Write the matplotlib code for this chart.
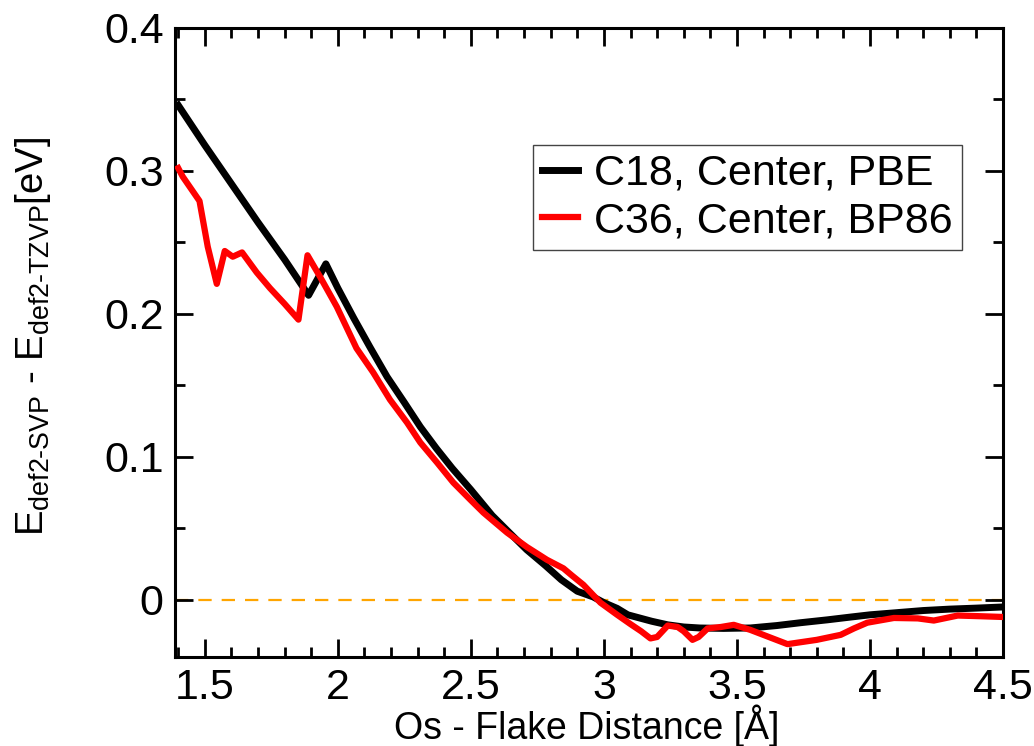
import numpy as np
import matplotlib.pyplot as plt
from matplotlib.ticker import MultipleLocator, FuncFormatter

plt.rcParams['font.family'] = ['Liberation Sans', 'DejaVu Sans']
plt.rcParams['mathtext.fontset'] = 'custom'
plt.rcParams['mathtext.rm'] = 'Liberation Sans'
plt.rcParams['mathtext.default'] = 'regular'

# C18, Center, PBE
x_pbe = [1.4, 1.5, 1.6, 1.7, 1.8, 1.89, 1.955, 2.0, 2.06, 2.12, 2.185, 2.25, 2.31, 2.37,
         2.43, 2.5, 2.58, 2.65, 2.71, 2.78, 2.84, 2.9, 2.96, 3.0, 3.05, 3.09, 3.18, 3.24,
         3.3, 3.36, 3.45, 3.55, 3.65, 3.74, 3.84, 3.93, 4.0, 4.1, 4.2, 4.3, 4.4, 4.5]
y_pbe = [0.346, 0.318, 0.291, 0.264, 0.238, 0.213, 0.235, 0.218, 0.197, 0.177, 0.156,
         0.138, 0.121, 0.106, 0.092, 0.077, 0.059, 0.046, 0.035, 0.024, 0.014, 0.006,
         0.002, -0.002, -0.006, -0.0105, -0.015, -0.0175, -0.019, -0.0197, -0.020,
         -0.0197, -0.018, -0.016, -0.014, -0.012, -0.0105, -0.009, -0.0075, -0.0065,
         -0.0058, -0.005]

# C36, Center, BP86
x_bp86 = [1.4, 1.417, 1.48, 1.511, 1.545, 1.575, 1.605, 1.64, 1.695, 1.745, 1.80, 1.852,
          1.886, 1.933, 1.996, 2.07, 2.133, 2.196, 2.26, 2.31, 2.373, 2.434, 2.498, 2.547,
          2.636, 2.71, 2.786, 2.848, 2.88, 2.923, 2.987, 3.05, 3.1, 3.14, 3.175, 3.20,
          3.24, 3.277, 3.30, 3.333, 3.356, 3.39, 3.44, 3.488, 3.55, 3.62, 3.69, 3.80,
          3.89, 3.94, 3.99, 4.09, 4.18, 4.24, 4.33, 4.42, 4.5]
y_bp86 = [0.302, 0.296, 0.279, 0.247, 0.221, 0.244, 0.240, 0.243, 0.229, 0.218, 0.207,
          0.196, 0.241, 0.226, 0.205, 0.176, 0.159, 0.140, 0.124, 0.110, 0.096, 0.082,
          0.070, 0.061, 0.047, 0.037, 0.028, 0.022, 0.017, 0.0105, -0.002, -0.0105,
          -0.017, -0.022, -0.027, -0.026, -0.018, -0.019, -0.022, -0.028, -0.026, -0.020,
          -0.019, -0.0175, -0.021, -0.026, -0.031, -0.028, -0.0245, -0.020, -0.016,
          -0.0127, -0.013, -0.0145, -0.011, -0.0115, -0.012]

fig = plt.figure(figsize=(10.34, 7.46), dpi=100)
ax = fig.add_axes([0.169, 0.1193, 0.801, 0.8432])

ax.axhline(0, color='#ffa500', lw=1.6, dashes=(6, 4.5), zorder=1)
ax.plot(x_pbe, y_pbe, color='black', lw=5, label='C18, Center, PBE', zorder=2)
ax.plot(x_bp86, y_bp86, color='#ff0000', lw=4.5, label='C36, Center, BP86', zorder=3)

ax.set_xlim(1.387, 4.5)
ax.set_ylim(-0.04, 0.4)

#ticks
ax.xaxis.set_major_locator(MultipleLocator(0.5))
ax.xaxis.set_minor_locator(MultipleLocator(0.1))
ax.yaxis.set_major_locator(MultipleLocator(0.1))
ax.yaxis.set_minor_locator(MultipleLocator(0.05))
fmt = FuncFormatter(lambda v, p: '%g' % round(v, 3))
ax.xaxis.set_major_formatter(fmt)
ax.yaxis.set_major_formatter(fmt)
ax.tick_params(which='both', direction='in', top=True, right=True, width=2, labelsize=31)
ax.tick_params(which='major', length=13)
ax.tick_params(axis='x', pad=8)
ax.tick_params(axis='y', pad=8)
ax.tick_params(which='minor', length=7)
for s in ax.spines.values():
    s.set_linewidth(2.2)

ax.set_xlabel('Os - Flake Distance [Å]', fontsize=27)
ax.xaxis.set_label_coords(0.497, -0.076)
ax.set_ylabel(r'E$_{def2\text{-}SVP}$ - E$_{def2\text{-}TZVP}$[eV]', fontsize=27.5)
ax.yaxis.set_label_coords(-0.147, 0.51)

leg = ax.legend(loc='upper right', bbox_to_anchor=(0.950, 0.814), borderaxespad=0,
                fontsize=31, fancybox=False, handlelength=0.85, handletextpad=0.37,
                borderpad=0.2, labelspacing=0.18, framealpha=1)
leg.get_frame().set_edgecolor('#444444')
leg.get_frame().set_linewidth(1)

plt.savefig('out.png', dpi=100)
